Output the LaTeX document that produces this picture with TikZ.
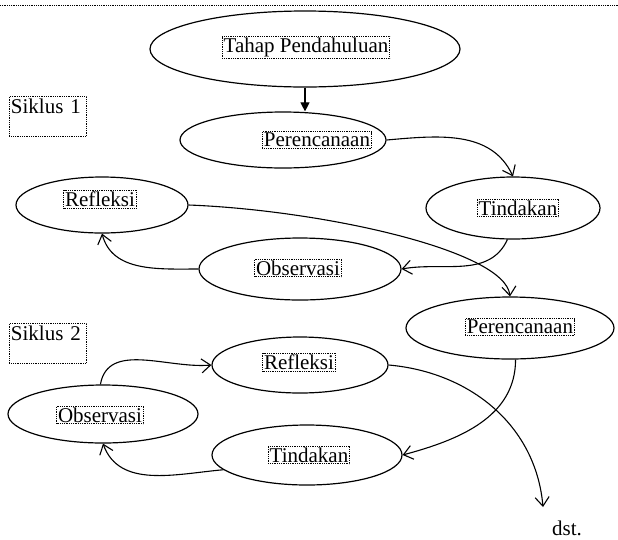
\documentclass[tikz,border=0pt]{standalone}
\usepackage{fontspec}
\setmainfont{Liberation Serif}
\usepackage{tikz}
\usetikzlibrary{arrows.meta, shapes.geometric}

\begin{document}
\begin{tikzpicture}[
    x=1pt, y=-1pt,
    oval/.style={draw, ellipse, line width=1.2pt, inner sep=0pt},
    txt/.style={draw, densely dotted, line width=0.8pt, inner sep=1.5pt, font=\fontsize{21}{24}\selectfont},
    sik/.style={draw, densely dotted, line width=0.8pt, anchor=north west, align=left, text width=74pt,
                inner sep=1.5pt, text height=16pt, text depth=21pt, font=\fontsize{21}{24}\selectfont},
    arr/.style={-{Straight Barb[length=9pt, width=14pt]}, line width=1.1pt},
    first/.style={-{Triangle[length=9pt, width=9pt]}, line width=1.1pt}
]
\useasboundingbox (0,0) rectangle (618,539);
\draw[densely dotted, line width=0.8pt] (0,5) -- (618,5);

% Siklus 1
\node[oval, minimum width=310pt, minimum height=76pt] (tahap) at (305,49) {};
\node[txt] (tahap-t) at (306,47) {Tahap Pendahuluan};
\node[sik] (sik1) at (9,96) {Siklus 1};
\node[oval, minimum width=206pt, minimum height=56pt] (renc1) at (283,140) {};
\node[txt] (renc1-t) at (317,140) {Perencanaan};
\node[oval, minimum width=174pt, minimum height=62pt] (tind1) at (513,208) {};
\node[txt] (tind1-t) at (518,208) {Tindakan};
\node[oval, minimum width=172pt, minimum height=56pt] (refl1) at (102,205) {};
\node[txt] (refl1-t) at (100,199) {Refleksi};
\node[oval, minimum width=202pt, minimum height=62pt] (obs1) at (300,269) {};
\node[txt] (obs1-t) at (298,268) {Observasi};

% Siklus 2
\node[oval, minimum width=208pt, minimum height=62pt] (renc2) at (510,328) {};
\node[txt] (renc2-t) at (520,327) {Perencanaan};
\node[sik] (sik2) at (9,323) {Siklus 2};
\node[oval, minimum width=176pt, minimum height=56pt] (refl2) at (300,365) {};
\node[txt] (refl2-t) at (299,362) {Refleksi};
\node[oval, minimum width=190pt, minimum height=58pt] (obs2) at (103,414) {};
\node[txt] (obs2-t) at (100,415) {Observasi};
\node[oval, minimum width=190pt, minimum height=60pt] (tind2) at (307,455) {};
\node[txt] (tind2-t) at (309,455) {Tindakan};

\coordinate (ujung) at (543,507);
\node[font=\fontsize{21}{24}\selectfont] (dst) at (567,528) {dst.};

\draw[first] (tahap.south) -- (tahap.south |- renc1.north);
\draw[arr] (renc1.east) to[out=5, in=115] (tind1.north);
\draw[arr] (tind1.-100) to[out=-115, in=10] (obs1.east);
\draw[arr] (obs1.west) to[out=180, in=-75] (refl1.south);
\draw[arr] (refl1.east) .. controls (320,210) and (505,250) .. (renc2.north);
\draw[arr] (renc2.-80) to[out=-90, in=15] (tind2.east);
\draw[arr] (tind2.190) to[out=185, in=-70] (obs2.south);
\draw[arr] (obs2.95) to[out=80, in=185] (refl2.west);
\draw[arr] (refl2.east) to[out=-5, in=95] (ujung);
\end{tikzpicture}
\end{document}
